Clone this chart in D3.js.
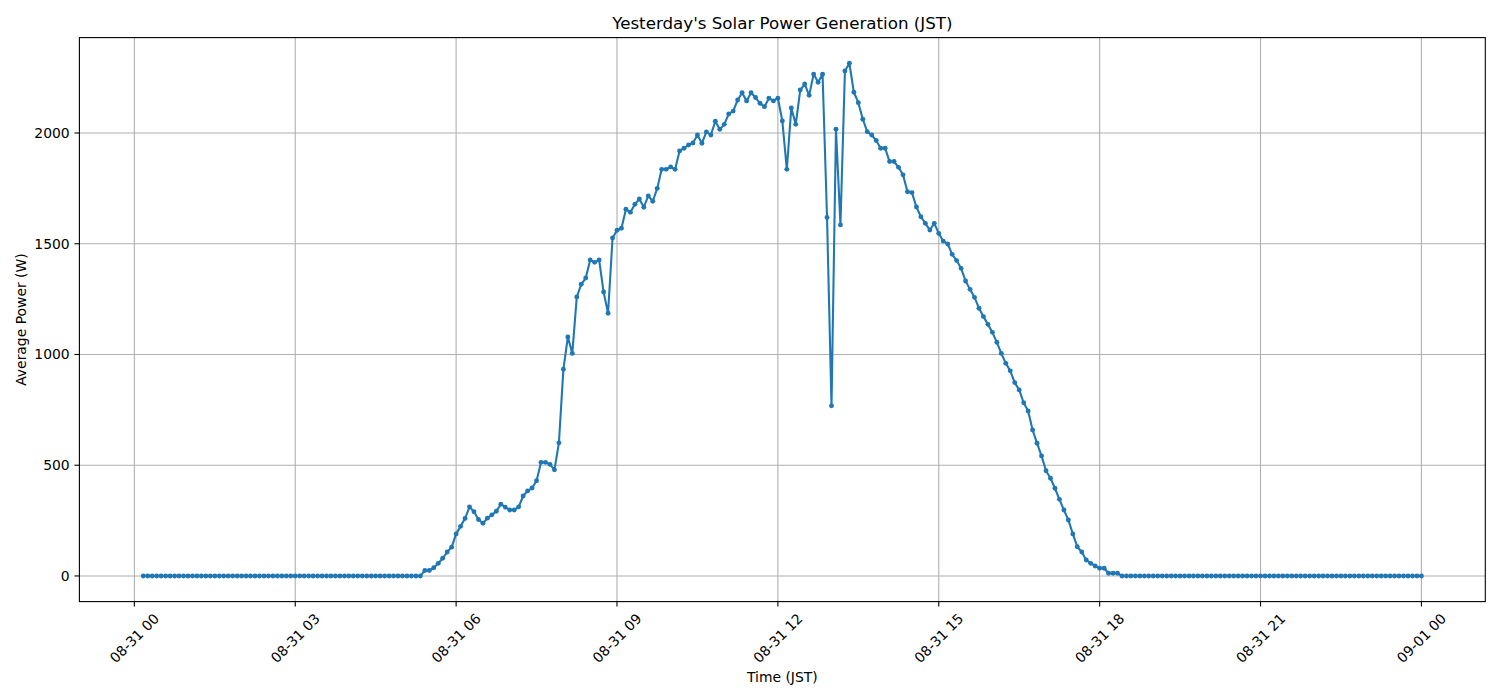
<!DOCTYPE html>
<html>
<head>
<meta charset="utf-8">
<script src="https://cdn.jsdelivr.net/npm/d3@7"></script>
<style>
  body { margin: 0; background: #fff; }
  text { font-family: "DejaVu Sans", sans-serif; fill: #000; }
</style>
</head>
<body>
<script>
// samples every 5 minutes, first at 00:10 JST
var startTime = "2024-08-31T00:10";
var stepMinutes = 5;

var powerW = [
  // 00:10 - 05:20
  0,0,0,0,0,0,0,0,0,0, 0,0,0,0,0,0,0,0,0,0,
  0,0,0,0,0,0,0,0,0,0, 0,0,0,0,0,0,0,0,0,0,
  0,0,0,0,0,0,0,0,0,0, 0,0,0,0,0,0,0,0,0,0,
  0,0,0,
  // 05:25 -
  25,25,37,57,80,108,130,190,224,260,
  312,290,255,238,261,276,292,324,311,298,
  298,312,361,384,397,430,513,513,504,479,
  601,933,1079,1005,1260,1317,1345,1427,1416,1427,
  1282,1186,1526,1561,1570,1656,1642,1678,1702,1665,
  1716,1692,1750,1836,1836,1847,1836,1919,1931,1946,
  1955,1991,1954,2005,1991,2053,2017,2039,2086,2099,
  2149,2182,2145,2182,2160,2134,2119,2157,2145,2157,
  2054,1836,2113,2039,2194,2221,2170,2266,2229,2265,
  1619,768,2017,1585,2280,2315,2184,2137,2062,2006,
  1991,1966,1931,1931,1871,1871,1845,1811,1735,1731,
  1666,1622,1592,1562,1592,1547,1512,1499,1452,1424,
  1389,1332,1294,1258,1209,1171,1136,1100,1055,1005,
  960,926,873,840,782,745,659,599,542,475,
  441,396,346,298,253,190,132,108,72,57,
  45,35,35,12,12,12,
  // 18:25 - 24:00
  0,0,0,0,0,0,0,0,0,0, 0,0,0,0,0,0,0,0,0,0,
  0,0,0,0,0,0,0,0,0,0, 0,0,0,0,0,0,0,0,0,0,
  0,0,0,0,0,0,0,0,0,0, 0,0,0,0,0,0,0,0,0,0,
  0,0,0,0,0,0,0,0
];

var yTicks = [0, 500, 1000, 1500, 2000];
var xTickHours = 3;

var width = 1500, height = 700;
var plotL = 79.4, plotR = 1485.3, plotT = 37.6, plotB = 601.6;
var blue = "#1f77b4", gridColor = "#b0b0b0";

var t0 = d3.utcParse("%Y-%m-%dT%H:%M")(startTime);
var data = powerW.map(function(v, i){
  return { t: d3.utcMinute.offset(t0, i * stepMinutes), v: v };
});

var tExt = d3.extent(data, function(d){ return d.t; });
var tPad = (tExt[1] - tExt[0]) * 0.05;
var vExt = d3.extent(data, function(d){ return d.v; });
var vPad = (vExt[1] - vExt[0]) * 0.05;

var x = d3.scaleUtc()
  .domain([new Date(+tExt[0] - tPad), new Date(+tExt[1] + tPad)])
  .range([plotL, plotR]);

var y = d3.scaleLinear()
  .domain([vExt[0] - vPad, vExt[1] + vPad])
  .range([plotB, plotT]);

var svg = d3.select("body").append("svg")
  .attr("width", width)
  .attr("height", height);

var xTicks = x.ticks(d3.utcHour.every(xTickHours));
var fmt = d3.utcFormat("%m-%d %H");

// grid
svg.append("g").selectAll("line").data(xTicks).enter().append("line")
  .attr("x1", function(d){ return x(d); }).attr("x2", function(d){ return x(d); })
  .attr("y1", plotT).attr("y2", plotB)
  .attr("stroke", gridColor).attr("stroke-width", 1.1);
svg.append("g").selectAll("line").data(yTicks).enter().append("line")
  .attr("y1", function(d){ return y(d); }).attr("y2", function(d){ return y(d); })
  .attr("x1", plotL).attr("x2", plotR)
  .attr("stroke", gridColor).attr("stroke-width", 1.1);

// line + markers
var line = d3.line()
  .x(function(d){ return x(d.t); })
  .y(function(d){ return y(d.v); });

svg.append("path").datum(data)
  .attr("d", line)
  .attr("fill", "none")
  .attr("stroke", blue)
  .attr("stroke-width", 2.08)
  .attr("stroke-linejoin", "round");

svg.append("g").selectAll("circle").data(data).enter().append("circle")
  .attr("cx", function(d){ return x(d.t); })
  .attr("cy", function(d){ return y(d.v); })
  .attr("r", 2.45)
  .attr("fill", blue);

// frame
svg.append("rect")
  .attr("x", plotL).attr("y", plotT)
  .attr("width", plotR - plotL).attr("height", plotB - plotT)
  .attr("fill", "none").attr("stroke", "#000").attr("stroke-width", 1.1);

// x axis ticks + rotated labels
var xt = svg.append("g").selectAll("g").data(xTicks).enter().append("g");
xt.append("line")
  .attr("x1", function(d){ return x(d); }).attr("x2", function(d){ return x(d); })
  .attr("y1", plotB).attr("y2", plotB + 4.9)
  .attr("stroke", "#000").attr("stroke-width", 1.1);
xt.append("text")
  .attr("transform", function(d){ return "translate(" + x(d) + "," + (plotB + 36.5) + ") rotate(-45)"; })
  .attr("text-anchor", "middle")
  .attr("dominant-baseline", "central")
  .style("font-size", "13.9px")
  .text(function(d){ return fmt(d); });

// y axis ticks + labels
var yt = svg.append("g").selectAll("g").data(yTicks).enter().append("g");
yt.append("line")
  .attr("x1", plotL - 4.9).attr("x2", plotL)
  .attr("y1", function(d){ return y(d); }).attr("y2", function(d){ return y(d); })
  .attr("stroke", "#000").attr("stroke-width", 1.1);
yt.append("text")
  .attr("x", plotL - 9.7)
  .attr("y", function(d){ return y(d); })
  .attr("text-anchor", "end")
  .attr("dominant-baseline", "central")
  .style("font-size", "13.9px")
  .text(function(d){ return d; });

// title and axis labels
svg.append("text")
  .attr("x", (plotL + plotR) / 2).attr("y", plotT - 8.3)
  .attr("text-anchor", "middle")
  .style("font-size", "16.7px")
  .text("Yesterday's Solar Power Generation (JST)");

svg.append("text")
  .attr("x", (plotL + plotR) / 2).attr("y", 682)
  .attr("text-anchor", "middle")
  .style("font-size", "13.9px")
  .text("Time (JST)");

svg.append("text")
  .attr("transform", "translate(26," + ((plotT + plotB) / 2) + ") rotate(-90)")
  .attr("text-anchor", "middle")
  .style("font-size", "13.9px")
  .text("Average Power (W)");
</script>
</body>
</html>
